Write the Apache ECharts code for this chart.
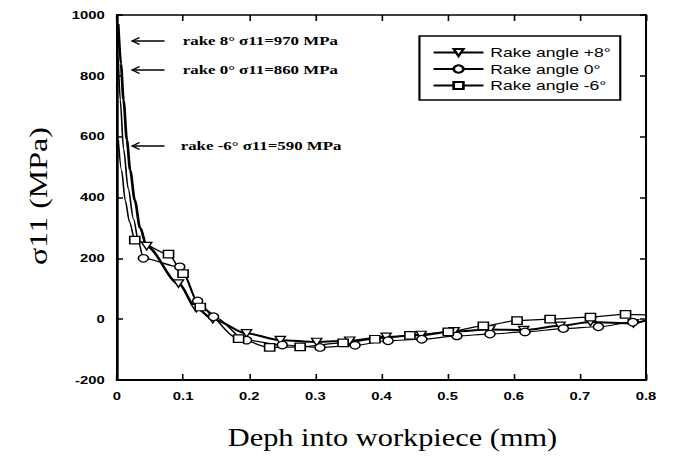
<!DOCTYPE html>
<html>
<head>
<meta charset="utf-8">
<script src="https://cdn.jsdelivr.net/npm/echarts@6/dist/echarts.min.js"></script>
<style>
  html, body { margin: 0; padding: 0; background: #fff; overflow: hidden; }
  /* the figure is laid out at 499px and widened to fill the 673px page */
  #chart { width: 499px; height: 461px; transform: scaleX(1.3487); transform-origin: 0 0; }
</style>
</head>
<body>
<div id="chart"></div>
<script>
// Depth into the workpiece (mm) and stress sigma11 (MPa) for each rake angle.
// The leading points of each curve trace the steep surface drop and carry no marker.
const rakePlus8Depth = [0.002, 0.006, 0.010, 0.015, 0.020, 0.027, 0.035, 0.045, 0.093, 0.120, 0.145, 0.196, 0.247, 0.302, 0.352, 0.407, 0.460, 0.510, 0.564, 0.615, 0.670, 0.716, 0.781, 0.800];
const rakePlus8Stress = [970, 840, 720, 590, 490, 391, 300, 240, 117, 36, 0, -47, -69, -75, -71, -58, -52, -40, -34, -36, -22, -9, -14, -4];

const rakeZeroDepth = [0.002, 0.005, 0.010, 0.017, 0.025, 0.033, 0.040, 0.095, 0.122, 0.146, 0.196, 0.250, 0.307, 0.360, 0.410, 0.461, 0.514, 0.564, 0.617, 0.675, 0.728, 0.780, 0.800];
const rakeZeroStress = [860, 720, 560, 430, 330, 250, 200, 172, 60, 8, -69, -85, -93, -86, -71, -66, -55, -49, -42, -31, -25, -10, -5];

const rakeMinus6Depth = [0.002, 0.007, 0.0125, 0.019, 0.027, 0.078, 0.100, 0.126, 0.184, 0.231, 0.277, 0.342, 0.390, 0.443, 0.501, 0.554, 0.605, 0.655, 0.716, 0.769, 0.800];
const rakeMinus6Stress = [590, 490, 391, 320, 260, 214, 150, 40, -64, -93, -91, -78, -66, -53, -42, -22, -5, 0, 7, 16, 14];

// number of unmarked points at the start of each curve
const leadPlus8 = 7, leadZero = 6, leadMinus6 = 4;

const seriesNames = ['Rake angle +8\u00b0', 'Rake angle 0\u00b0', 'Rake angle -6\u00b0'];
const xTicks = [0, 0.1, 0.2, 0.3, 0.4, 0.5, 0.6, 0.7, 0.8];
const yTicks = [-200, 0, 200, 400, 600, 800, 1000];
const xTitle = 'Deph into workpiece (mm)';
const yTitle = '\u03c311 (MPa)';

const notes = [
  'rake 8\u00b0 \u03c311=970 MPa',
  'rake 0\u00b0 \u03c311=860 MPa',
  'rake -6\u00b0 \u03c311=590 MPa'
];

function pairs(xs, ys) { return xs.map((x, i) => [x, ys[i]]); }

const chart = echarts.init(document.getElementById('chart'), null, { renderer: 'svg', width: 499, height: 461 });

function curve(name, xs, ys, symbol, rotate, width, lead) {
  const last = xs.length - 1;
  return {
    name: name,
    type: 'line',
    data: pairs(xs, ys),
    smooth: 0.3,
    smoothMonotone: 'x',
    symbol: symbol,
    symbolRotate: rotate,
    symbolSize: (v, p) => (p.dataIndex < lead || p.dataIndex === last) ? 0 : 7.5,
    showAllSymbol: true,
    lineStyle: { color: '#000', width: width },
    itemStyle: { color: '#fff', borderColor: '#000', borderWidth: 1.2 },
    emphasis: { disabled: true },
    z: 3
  };
}

const axisFont = { color: '#000', fontFamily: '"Liberation Sans", Arial, sans-serif', fontWeight: 'bold', fontSize: 11 };
const serif = '"Liberation Serif", "Times New Roman", serif';

// arrows pointing at the surface values, with their captions
const arrowRows = [41, 70, 146];
const graphics = [];
arrowRows.forEach((y, i) => {
  graphics.push({ type: 'line', shape: { x1: 98, y1: y, x2: 122, y2: y }, style: { stroke: '#000', lineWidth: 1.3 } });
  graphics.push({ type: 'polyline', shape: { points: [[103.5, y - 3.5], [98, y], [103.5, y + 3.5]] }, style: { stroke: '#000', lineWidth: 1.3, fill: null } });
  graphics.push({
    type: 'text', x: i === 2 ? 134 : 135.5, y: y,
    style: { text: notes[i], fill: '#000', font: 'bold 12.5px ' + serif, verticalAlign: 'middle' }
  });
});
// axis titles
graphics.push({
  type: 'text', x: 291, y: 437, scaleX: 0.9,
  style: { text: xTitle, fill: '#000', font: '25px ' + serif, align: 'center', verticalAlign: 'middle' }
});
graphics.push({
  type: 'text', x: 28, y: 196, rotation: Math.PI / 2, scaleY: 0.6,
  style: { text: yTitle, fill: '#000', font: '32px ' + serif, align: 'center', verticalAlign: 'middle' }
});

chart.setOption({
  animation: false,
  backgroundColor: '#fff',
  grid: { left: 86.7, right: 20, top: 15, bottom: 81, containLabel: false },
  legend: {
    orient: 'vertical',
    left: 311,
    top: 36,
    data: seriesNames,
    itemWidth: 37,
    itemHeight: 9,
    itemGap: 1.5,
    padding: [9, 7, 7, 9.5],
    borderColor: '#000',
    borderWidth: 1.6,
    textStyle: { color: '#000', fontFamily: '"Liberation Sans", Arial, sans-serif', fontSize: 13, lineHeight: 15 }
  },
  xAxis: [{
    type: 'value', min: 0, max: 0.8, interval: 0.1,
    axisLine: { onZero: false, lineStyle: { color: '#000', width: 2 } },
    axisTick: { inside: true, length: 6, lineStyle: { color: '#000', width: 1.2 } },
    axisLabel: Object.assign({ margin: 11, formatter: v => (v === 0 ? '0' : v.toFixed(1)), customValues: xTicks }, axisFont),
    splitLine: { show: false }
  }, {
    type: 'value', position: 'top', min: 0, max: 0.8, interval: 0.1,
    axisLine: { show: true, onZero: false, lineStyle: { color: '#000', width: 1.5 } },
    axisTick: { inside: true, length: 6, lineStyle: { color: '#000', width: 1.2 } },
    axisLabel: { show: false }, splitLine: { show: false }
  }],
  yAxis: [{
    type: 'value', min: -200, max: 1000, interval: 200,
    axisLine: { onZero: false, lineStyle: { color: '#000', width: 2 } },
    axisTick: { inside: true, length: 4.5, lineStyle: { color: '#000', width: 1.5 } },
    axisLabel: Object.assign({ margin: 9, formatter: v => String(v), customValues: yTicks }, axisFont),
    splitLine: { show: false }
  }, {
    type: 'value', position: 'right', min: -200, max: 1000, interval: 200,
    axisLine: { show: true, onZero: false, lineStyle: { color: '#000', width: 1.5 } },
    axisTick: { inside: true, length: 4.5, lineStyle: { color: '#000', width: 1.5 } },
    axisLabel: { show: false }, splitLine: { show: false }
  }],
  series: [
    curve(seriesNames[0], rakePlus8Depth, rakePlus8Stress, 'triangle', 180, 2, leadPlus8),
    curve(seriesNames[1], rakeZeroDepth, rakeZeroStress, 'circle', 0, 1.2, leadZero),
    curve(seriesNames[2], rakeMinus6Depth, rakeMinus6Stress, 'rect', 0, 1.2, leadMinus6)
  ],
  graphic: graphics
});
</script>
</body>
</html>
